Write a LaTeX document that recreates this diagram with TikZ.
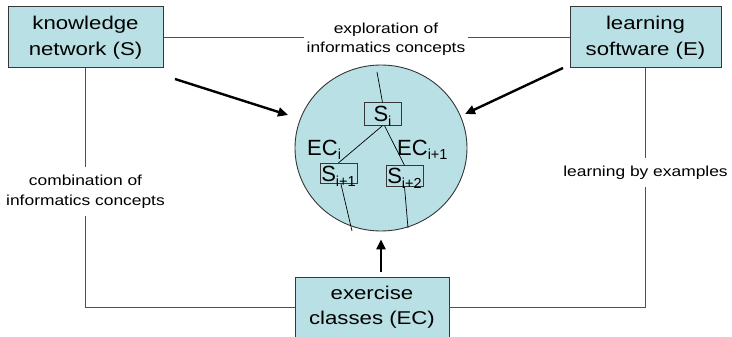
\documentclass[tikz,border=0pt]{standalone}
\usepackage{fontspec}
\setmainfont{Liberation Sans}
\newfontfamily\widesans[FakeStretch=1.2]{Liberation Sans}
\usetikzlibrary{arrows.meta,shapes.geometric}
\definecolor{boxfill}{RGB}{185,224,228}
\definecolor{edge}{RGB}{55,55,55}
\definecolor{wire}{RGB}{80,80,80}
\newcommand\lowsub[1]{\raisebox{-5pt}{\fontsize{14.5}{14.5}\selectfont #1}}

\begin{document}
\begin{tikzpicture}[x=1pt,y=-1pt,
  block/.style={draw=edge, line width=1pt, fill=boxfill, minimum width=#1,
    minimum height=61pt, inner sep=0pt, align=center,
    font=\widesans\fontsize{18.5}{26}\selectfont},
  plain/.style={inner sep=0pt, align=center,
    font=\widesans\fontsize{18.5}{25}\selectfont},
  lbl/.style={fill=white, align=center, inner xsep=3pt, inner ysep=8pt,
    font=\widesans\fontsize{14.5}{19.5}\selectfont},
  link/.style={draw=wire, line width=0.9pt},
  push/.style={line width=2.4pt, -{Triangle[length=10pt,width=9pt]}},
  sbox/.style={draw=edge, line width=0.8pt, minimum width=37pt, text height=15.5pt,
    text depth=0pt, inner xsep=0pt, inner ysep=2.5pt,
    font=\fontsize{22}{22}\selectfont},
  twig/.style={draw=black, line width=0.7pt},
  tag/.style={anchor=base west, inner sep=0pt, font=\fontsize{22}{22}\selectfont}]

\clip (0,0) rectangle (732,337);
\fill[white] (0,0) rectangle (732,337);

% the three outer boxes
\node[block=155pt] (ks) at (85.5,37.5) {knowledge\\network (S)};
\node[block=151pt] (ls) at (645.5,37.5) {learning\\software (E)};
\draw[draw=edge, line width=1pt, fill=boxfill] (295,277) rectangle (449,352);
\node[plain, minimum width=154pt, minimum height=60pt] (ex) at (372,307.5) {exercise\\classes (EC)};

% thin connectors with their labels
\draw[link] (ks.east) -- node[lbl, pos=0.548, yshift=-2pt] (explo) {exploration of\\informatics concepts} (ls.west);
\draw[link] (ks.south) -- node[lbl, pos=0.515] (combi) {combination of\\informatics concepts} (ks.south |- ex.west) -- (ex.west);
\draw[link] (ls.south) -- node[lbl, pos=0.435] (byex) {learning by examples} (ls.south |- ex.east) -- (ex.east);

% central concept space
\node[ellipse, draw=edge, line width=0.9pt, fill=boxfill, minimum width=172pt,
  minimum height=166pt, inner sep=0pt] (circ) at (381,148) {};

% arrows into the concept space
\coordinate (kstail) at (175,79);
\coordinate (kshead) at (288,115);
\coordinate (lstail) at (563,68);
\coordinate (lshead) at (465,114);
\draw[push] (kstail) -- (kshead);
\draw[push] (lstail) -- (lshead);
\draw[push, shorten <=5pt, shorten >=8pt] (ex.north -| circ.south) -- (circ.south);

% concept tree inside
\node[sbox, inner ysep=3.5pt] (si) at (382.5,114) {S\lowsub{i}};
\node[sbox] (s1) at (338.5,173.5) {S\lowsub{i+1}};
\node[sbox] (s2) at (404.5,176) {S\lowsub{i+2}};
\node[tag] (eci) at (307,155) {EC\lowsub{i}};
\node[tag] (ecn) at (397,155) {EC\lowsub{i+1}};

\coordinate (rootin) at (377,72);
\coordinate (leafa) at (352,231);
\coordinate (leafb) at (408,228);
\draw[twig] (rootin) -- (si.north);
\draw[twig] (si.south) -- (s1.north);
\draw[twig] ([xshift=2pt]si.south) -- (s2.north);
\draw[twig] ([xshift=2.5pt]s1.south) -- (leafa);
\draw[twig] (s2.south) -- (leafb);
\end{tikzpicture}
\end{document}
